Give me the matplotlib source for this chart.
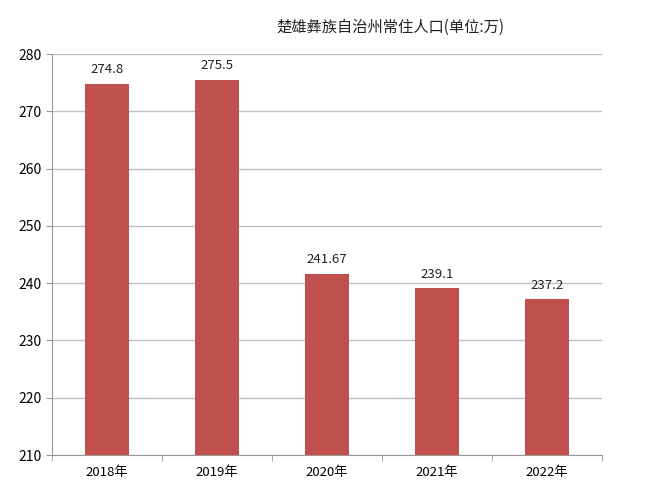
import matplotlib
matplotlib.use("Agg")
import matplotlib.pyplot as plt
import numpy as np

plt.rcParams['font.family'] = ['Noto Sans CJK SC', 'DejaVu Sans']

years = ["2018年", "2019年", "2020年", "2021年", "2022年"]
population = [274.8, 275.5, 241.67, 239.1, 237.2]
value_labels = ["274.8", "275.5", "241.67", "239.1", "237.2"]
title = "楚雄彝族自治州常住人口(单位:万)"

fig = plt.figure(figsize=(6.55, 4.94), dpi=100)
ax = fig.add_axes([52 / 655, 1 - 455 / 494, 550 / 655, 401 / 494])

x = np.arange(len(years))
ax.bar(x, population, width=0.4, color="#C0504D", zorder=3)
for xi, v, lab in zip(x, population, value_labels):
    ax.text(xi, v + 1.3, lab, ha="center", va="bottom", fontsize=9.5, color="#222222")

ax.set_xlim(-0.5, len(years) - 0.5)
ax.set_ylim(210, 280)
ax.set_yticks(range(210, 281, 10))
ax.set_xticks(x)
ax.set_xticklabels(years)
ax.set_xticks(np.arange(-0.5, len(years)), minor=True)
ax.tick_params(axis="x", which="major", length=0, pad=8, labelsize=9.5)
ax.tick_params(axis="x", which="minor", length=4, color="#999999")
ax.tick_params(axis="y", length=4, color="#999999", labelsize=10)
ax.grid(axis="y", color="#BFBFBF", linewidth=1, zorder=0)
for s in ["top", "right"]:
    ax.spines[s].set_visible(False)
for s in ["left", "bottom"]:
    ax.spines[s].set_color("#999999")

fig.text(390 / 655, 1 - 27 / 494, title, ha="center", va="center", fontsize=11, color="#222222")

fig.savefig("out.png", dpi=100)
